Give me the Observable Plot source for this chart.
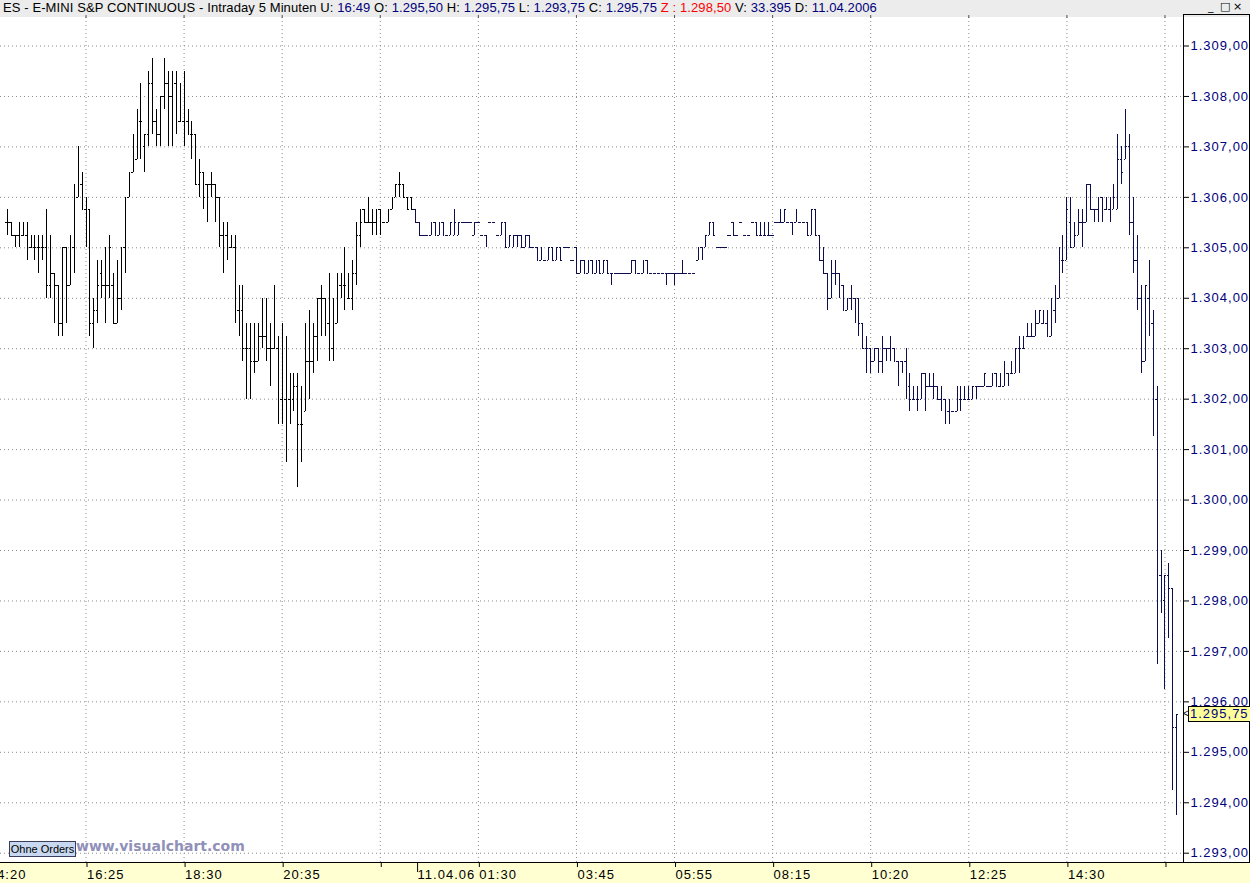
<!DOCTYPE html>
<html>
<head>
<meta charset="utf-8">
<script src="https://cdn.jsdelivr.net/npm/d3@7"></script>
<script src="https://cdn.jsdelivr.net/npm/@observablehq/plot@0.6"></script>
<style>
  html, body { margin: 0; padding: 0; background: #fff; }
  #wrap { position: relative; width: 1250px; height: 883px; overflow: hidden; font-family: "Liberation Sans", Arial, sans-serif; }
  #hdr { position: absolute; left: 3px; top: 1px; font-size: 13px; line-height: 14px; letter-spacing: 0.1px; white-space: pre; color: #000; }
  #hdr .v { color: #00007b; }
  #hdr .z { color: #ff0000; }
  .wb { position: absolute; top: 0px; font-family: "DejaVu Sans", sans-serif; font-size: 11px; line-height: 13px; color: #000; }
  #panel { position: absolute; left: 1183px; top: 14px; width: 65px; height: 848px; border: 1px solid #000; border-bottom: none; pointer-events: none; }
  #btn { position: absolute; left: 9px; top: 841px; width: 65px; height: 14px; background: #c8d8f0; border: 1px solid #3c3c5c; font-size: 11px; line-height: 14px; text-align: center; color: #000; }
  #vc { position: absolute; left: 76px; top: 838px; font-family: "DejaVu Sans", Verdana, sans-serif; font-weight: bold; font-size: 14px; color: #9090b8; }
  #mark { position: absolute; left: 1188px; width: 66px; height: 14px; background: #ffff99; border: 1px solid #000; font-size: 13px; line-height: 14px; letter-spacing: 1px; color: #00007b; padding-left: 1px; }
  #arrow { position: absolute; left: 1183px; font-size: 10px; line-height: 14px; color: #000; }
</style>
</head>
<body>
<div id="wrap"></div>
<script>
// ---------- data (5-minute bars, E-mini S&P, 10/11.04.2006) ----------
const high = [
1305.75,1305.5,1305.25,1305.5,1305.5,1305.5,1305.25,1305.25,1305.25,1305.25,
1305.75,1305.25,1304.5,1304.25,1305.0,1305.0,1305.25,1306.25,1307.0,1306.5,
1306.0,1305.75,1304.0,1304.75,1304.75,1305.0,1305.25,1304.5,1304.75,1305.0,
1306.0,1306.5,1307.25,1307.75,1308.25,1307.25,1308.5,1308.75,1307.75,1308.0,
1308.75,1308.5,1308.5,1308.5,1308.25,1308.5,1307.75,1307.5,1307.25,1306.75,
1306.5,1306.25,1306.5,1306.25,1306.0,1305.5,1305.5,1305.25,1305.25,1304.25,
1304.25,1303.5,1303.5,1303.5,1303.5,1304.0,1304.0,1303.5,1304.25,1303.25,
1303.5,1303.25,1302.5,1302.5,1302.5,1302.25,1303.5,1303.75,1303.5,1304.0,
1304.25,1304.0,1304.5,1304.0,1304.5,1304.5,1305.0,1304.5,1304.75,1305.5,
1305.75,1305.75,1306.0,1305.75,1305.75,1305.75,1305.5,1305.75,1306.0,1306.25,
1306.5,1306.25,1306.0,1306.0,1305.75,1305.5,1305.25,1305.25,1305.5,1305.5,
1305.5,1305.5,1305.25,1305.5,1305.75,1305.5,1305.5,1305.5,1305.5,1305.5,
1305.5,1305.25,1305.25,1305.5,1305.5,1305.25,1305.5,1305.5,1305.25,1305.25,
1305.25,1305.25,1305.25,1305.25,1305.0,1305.0,1305.0,1304.75,1305.0,1305.0,
1305.0,1305.0,1305.0,1305.0,1304.75,1305.0,1304.75,1304.75,1304.75,1304.75,
1304.75,1304.75,1304.75,1304.75,1304.5,1304.5,1304.5,1304.5,1304.5,1304.75,
1304.75,1304.5,1304.75,1304.75,1304.5,1304.5,1304.5,1304.5,1304.5,1304.5,
1304.5,1304.5,1304.75,1304.5,1304.5,1304.5,1305.0,1305.0,1305.25,1305.5,
1305.5,1305.0,1305.0,1305.0,1305.25,1305.5,1305.25,1305.5,1305.25,1305.25,
1305.5,1305.5,1305.5,1305.5,1305.5,1305.25,1305.5,1305.75,1305.75,1305.5,
1305.5,1305.75,1305.5,1305.5,1305.5,1305.75,1305.75,1305.25,1305.0,1304.5,
1304.75,1304.75,1304.5,1304.25,1304.0,1304.25,1304.0,1304.0,1303.5,1303.25,
1303.0,1303.0,1303.0,1303.25,1303.0,1303.25,1303.0,1302.75,1302.75,1303.0,
1302.5,1302.25,1302.25,1302.5,1302.5,1302.5,1302.5,1302.25,1302.25,1302.0,
1302.0,1301.75,1302.25,1302.25,1302.25,1302.25,1302.25,1302.25,1302.25,1302.5,
1302.25,1302.5,1302.5,1302.5,1302.75,1302.5,1302.75,1303.0,1303.25,1303.25,
1303.5,1303.5,1303.75,1303.75,1303.75,1303.75,1304.0,1304.25,1305.0,1305.25,
1306.0,1306.0,1305.5,1305.75,1305.75,1306.25,1306.25,1305.75,1306.0,1306.0,
1306.0,1306.0,1306.25,1307.25,1307.0,1307.75,1307.25,1306.0,1305.25,1304.25,
1304.25,1304.75,1303.75,1302.25,1299.0,1298.5,1298.75,1298.25,1295.75
];
const low = [
1305.25,1305.25,1305.0,1305.0,1305.25,1304.75,1305.0,1304.75,1304.5,1304.75,
1304.0,1304.0,1303.5,1303.25,1303.25,1303.5,1304.25,1304.5,1306.0,1305.75,
1305.0,1303.25,1303.0,1303.5,1304.0,1303.5,1304.0,1303.5,1303.5,1303.75,
1304.5,1306.0,1306.5,1306.75,1306.75,1306.5,1307.0,1307.25,1307.0,1307.0,
1307.75,1307.0,1307.0,1307.25,1307.5,1307.0,1307.25,1306.75,1306.25,1306.0,
1305.75,1305.5,1306.0,1305.5,1305.0,1304.5,1304.75,1305.0,1303.5,1303.25,
1302.75,1302.0,1302.0,1302.5,1302.75,1303.0,1302.75,1302.25,1303.0,1301.5,
1301.5,1300.75,1301.5,1301.75,1300.25,1300.75,1301.75,1302.0,1302.5,1302.75,
1303.25,1303.25,1302.75,1302.75,1303.5,1304.0,1303.75,1304.0,1303.75,1304.25,
1305.0,1305.5,1305.5,1305.25,1305.25,1305.25,1305.5,1305.5,1305.75,1306.0,
1306.0,1306.0,1305.75,1305.75,1305.5,1305.25,1305.25,1305.25,1305.25,1305.25,
1305.25,1305.25,1305.25,1305.25,1305.25,1305.25,1305.5,1305.5,1305.5,1305.25,
1305.5,1305.25,1305.0,1305.5,1305.5,1305.25,1305.25,1305.0,1305.0,1305.0,
1305.0,1305.0,1305.0,1305.0,1305.0,1304.75,1304.75,1304.75,1304.75,1304.75,
1304.75,1304.75,1305.0,1305.0,1304.75,1304.5,1304.5,1304.5,1304.5,1304.5,
1304.5,1304.5,1304.5,1304.5,1304.25,1304.5,1304.5,1304.5,1304.5,1304.5,
1304.5,1304.5,1304.5,1304.5,1304.5,1304.5,1304.5,1304.5,1304.25,1304.5,
1304.25,1304.5,1304.5,1304.5,1304.5,1304.5,1304.75,1304.75,1305.0,1305.25,
1305.25,1305.0,1305.0,1305.0,1305.25,1305.25,1305.25,1305.5,1305.25,1305.25,
1305.5,1305.25,1305.25,1305.25,1305.25,1305.25,1305.5,1305.5,1305.5,1305.5,
1305.25,1305.5,1305.5,1305.5,1305.25,1305.25,1305.25,1304.75,1304.5,1303.75,
1304.0,1304.25,1304.0,1303.75,1303.75,1303.75,1303.5,1303.25,1303.0,1302.5,
1302.5,1302.75,1302.5,1302.5,1302.75,1302.75,1302.75,1302.25,1302.5,1302.0,
1301.75,1302.0,1301.75,1302.0,1301.75,1302.25,1302.0,1302.0,1301.75,1301.5,
1301.5,1301.75,1301.75,1301.75,1302.0,1302.0,1302.0,1302.0,1302.25,1302.25,
1302.25,1302.25,1302.25,1302.25,1302.25,1302.25,1302.5,1302.5,1302.5,1303.0,
1303.25,1303.25,1303.25,1303.5,1303.5,1303.25,1303.25,1303.5,1304.0,1304.5,
1304.75,1305.0,1305.0,1305.25,1305.0,1305.5,1305.75,1305.5,1305.5,1305.5,
1305.75,1305.5,1305.75,1305.75,1306.25,1306.75,1305.25,1304.5,1303.75,1302.5,
1302.75,1303.25,1301.25,1296.75,1297.75,1296.25,1297.25,1294.25,1293.75
];
const open = [
1305.5,1305.5,1305.25,1305.25,1305.25,1305.25,1305.0,1305.0,1305.0,1305.0,
1305.0,1304.25,1304.5,1304.25,1303.5,1305.0,1304.25,1305.0,1306.0,1306.25,
1305.75,1305.75,1303.5,1303.75,1304.5,1304.25,1304.25,1304.25,1303.5,1304.0,
1305.0,1306.0,1306.5,1306.75,1307.5,1307.0,1307.25,1308.25,1307.5,1307.25,
1308.0,1308.25,1308.0,1308.25,1307.5,1307.5,1307.5,1307.25,1307.25,1306.25,
1306.5,1306.25,1306.25,1306.25,1306.0,1305.25,1305.25,1305.0,1305.0,1303.75,
1303.75,1303.0,1303.0,1302.75,1302.75,1303.25,1303.25,1303.0,1303.0,1303.0,
1302.0,1302.0,1302.0,1302.0,1302.25,1301.5,1301.75,1302.75,1302.75,1303.25,
1304.0,1304.0,1303.5,1303.0,1303.5,1304.25,1304.25,1304.0,1304.0,1304.5,
1305.25,1305.75,1305.5,1305.5,1305.5,1305.75,1305.5,1305.5,1305.75,1306.0,
1306.25,1306.25,1306.0,1306.0,1305.75,1305.5,1305.25,1305.25,1305.25,1305.5,
1305.25,1305.5,1305.25,1305.25,1305.25,1305.25,1305.5,1305.5,1305.5,1305.25,
1305.5,1305.25,1305.25,1305.5,1305.5,1305.25,1305.25,1305.5,1305.0,1305.0,
1305.25,1305.25,1305.0,1305.25,1305.0,1305.0,1304.75,1304.75,1304.75,1305.0,
1304.75,1305.0,1305.0,1305.0,1304.75,1305.0,1304.5,1304.75,1304.5,1304.75,
1304.5,1304.75,1304.5,1304.75,1304.5,1304.5,1304.5,1304.5,1304.5,1304.5,
1304.75,1304.5,1304.5,1304.75,1304.5,1304.5,1304.5,1304.5,1304.5,1304.5,
1304.5,1304.5,1304.5,1304.5,1304.5,1304.5,1304.75,1305.0,1305.0,1305.25,
1305.5,1305.0,1305.0,1305.0,1305.25,1305.5,1305.25,1305.5,1305.25,1305.25,
1305.5,1305.5,1305.25,1305.25,1305.25,1305.25,1305.5,1305.5,1305.5,1305.5,
1305.5,1305.5,1305.5,1305.5,1305.5,1305.25,1305.75,1305.25,1304.75,1304.5,
1304.0,1304.5,1304.5,1304.25,1303.75,1304.0,1304.0,1304.0,1303.5,1303.0,
1303.0,1302.75,1303.0,1302.75,1303.0,1303.0,1303.0,1302.75,1302.75,1302.75,
1302.25,1302.0,1302.0,1302.0,1302.5,1302.25,1302.25,1302.25,1302.0,1302.0,
1301.75,1301.75,1301.75,1302.0,1302.0,1302.0,1302.0,1302.25,1302.25,1302.25,
1302.25,1302.25,1302.5,1302.25,1302.25,1302.5,1302.5,1302.5,1303.0,1303.0,
1303.25,1303.25,1303.25,1303.5,1303.5,1303.5,1303.25,1303.75,1304.0,1304.75,
1304.75,1305.5,1305.0,1305.25,1305.5,1305.5,1306.25,1305.75,1305.75,1306.0,
1305.75,1305.75,1305.75,1305.75,1306.75,1306.75,1307.0,1305.5,1304.75,1304.0,
1302.75,1304.0,1303.5,1302.0,1298.5,1298.0,1298.5,1298.25,1295.5
];
const close = [
1305.5,1305.25,1305.25,1305.25,1305.25,1305.0,1305.0,1305.0,1305.0,1305.0,
1304.25,1304.5,1304.25,1303.5,1305.0,1304.25,1305.0,1306.0,1306.25,1305.75,
1305.75,1303.5,1303.75,1304.25,1304.25,1304.25,1305.0,1303.5,1304.0,1304.0,
1305.75,1306.25,1306.75,1307.5,1307.5,1307.25,1308.25,1307.5,1307.25,1308.0,
1308.25,1308.0,1308.25,1307.5,1307.5,1307.5,1307.25,1307.25,1306.25,1306.5,
1306.0,1306.25,1306.25,1306.0,1305.25,1305.25,1305.0,1305.0,1303.75,1303.75,
1303.0,1303.0,1302.75,1302.75,1303.25,1303.25,1303.0,1303.0,1303.0,1302.0,
1302.0,1302.0,1302.0,1302.25,1301.5,1301.5,1302.75,1302.75,1303.25,1304.0,
1304.0,1303.5,1303.0,1303.0,1303.75,1304.25,1304.25,1304.0,1304.5,1305.25,
1305.5,1305.5,1305.5,1305.5,1305.5,1305.5,1305.5,1305.75,1306.0,1306.25,
1306.25,1306.0,1305.75,1305.75,1305.5,1305.25,1305.25,1305.25,1305.5,1305.25,
1305.5,1305.25,1305.25,1305.5,1305.5,1305.5,1305.5,1305.5,1305.5,1305.5,
1305.5,1305.25,1305.25,1305.5,1305.5,1305.25,1305.5,1305.0,1305.25,1305.25,
1305.25,1305.0,1305.25,1305.0,1305.0,1304.75,1305.0,1304.75,1305.0,1304.75,
1305.0,1304.75,1305.0,1305.0,1304.75,1304.5,1304.75,1304.5,1304.75,1304.5,
1304.75,1304.5,1304.75,1304.5,1304.5,1304.5,1304.5,1304.5,1304.5,1304.75,
1304.5,1304.5,1304.75,1304.5,1304.5,1304.5,1304.5,1304.5,1304.5,1304.5,
1304.5,1304.5,1304.5,1304.5,1304.5,1304.5,1305.0,1305.0,1305.25,1305.5,
1305.25,1305.0,1305.0,1305.0,1305.25,1305.25,1305.25,1305.5,1305.25,1305.25,
1305.5,1305.25,1305.25,1305.25,1305.25,1305.25,1305.5,1305.5,1305.75,1305.5,
1305.5,1305.75,1305.5,1305.5,1305.25,1305.75,1305.25,1304.75,1304.5,1304.0,
1304.5,1304.5,1304.25,1303.75,1304.0,1304.0,1304.0,1303.5,1303.0,1303.0,
1302.75,1303.0,1302.75,1303.0,1303.0,1303.0,1302.75,1302.75,1302.75,1302.25,
1302.0,1302.0,1302.0,1302.5,1302.25,1302.25,1302.25,1302.0,1302.0,1301.75,
1301.75,1301.75,1302.25,1302.0,1302.0,1302.0,1302.25,1302.25,1302.25,1302.5,
1302.25,1302.5,1302.25,1302.25,1302.5,1302.5,1302.5,1303.0,1303.0,1303.0,
1303.25,1303.25,1303.5,1303.75,1303.5,1303.25,1303.75,1304.0,1304.75,1304.75,
1305.75,1305.0,1305.25,1305.5,1305.5,1306.25,1305.75,1305.75,1305.75,1305.75,
1305.75,1305.75,1306.0,1306.75,1306.5,1307.0,1305.5,1304.75,1304.0,1302.75,
1304.25,1303.5,1302.0,1298.5,1298.25,1298.5,1298.25,1295.5,1295.75
];

// axis ticks / labels
const priceTicks = [1293,1294,1295,1296,1297,1298,1299,1300,1301,1302,1303,1304,1305,1306,1307,1308,1309];
const timeTickBars = [-5, 20, 45, 70, 95, 120, 145, 170, 195, 220, 245, 270, 295];
const timeTickLabels = ["14:20","16:25","18:30","20:35","","01:30","03:45","05:55","08:15","10:20","12:25","14:30",""];
const dayStartBar = 104;
const dayLabel = "11.04.06";

// header info
const title = "ES - E-MINI S&P CONTINUOUS - Intraday 5 Minuten";
const updated = "16:49";
const zValue = 1298.5;
const volume = "33.395";
const dateText = "11.04.2006";

// ---------- build ----------
const de = d3.formatLocale({decimal: ",", thousands: ".", grouping: [3], currency: ["", ""]});
const fmt = de.format(",.2f");

const bars = high.map((h, i) => ({i, h, l: low[i], o: open[i], c: close[i]}));
const last = bars[bars.length - 1];
const gridBars = timeTickBars.filter(d => d >= 0);
const labelOf = new Map(timeTickBars.map((d, k) => [d, timeTickLabels[k]]));

const xDomain = [-1.792, 299.72];
const yDomain = [1292.816, 1309.565];
const tickLen = 0.42;
const col = d => d.i < dayStartBar ? "#000000" : "#0e0e4e";
const gridStyle = {stroke: "#8c8c8c", strokeDasharray: "1,3", strokeWidth: 1};

const chart = Plot.plot({
  width: 1250, height: 883,
  marginTop: 17, marginBottom: 21, marginLeft: 0, marginRight: 67,
  x: {type: "linear", domain: xDomain, axis: null, label: null},
  y: {type: "linear", domain: yDomain, axis: null, label: null},
  marks: [
    Plot.ruleY(priceTicks, gridStyle),
    Plot.ruleX(gridBars, gridStyle),
    Plot.ruleX(bars, {x: "i", y1: "l", y2: "h", stroke: col, strokeWidth: 1, shapeRendering: "crispEdges"}),
    Plot.ruleY(bars, {y: "o", x1: d => d.i - tickLen, x2: "i", stroke: col, strokeWidth: 1, shapeRendering: "crispEdges"}),
    Plot.ruleY(bars, {y: "c", x1: "i", x2: d => d.i + tickLen, stroke: col, strokeWidth: 1, shapeRendering: "crispEdges"}),
    Plot.axisY(priceTicks, {anchor: "right", label: null, tickSize: 5, tickPadding: 2, tickFormat: fmt, fontSize: 13, fill: "#00007b", stroke: "#000"}),
    Plot.axisX(timeTickBars, {anchor: "bottom", label: null, tickSize: 5, tickPadding: 2, textAnchor: "start", dx: 1, tickFormat: d => labelOf.get(d), fontSize: 13, fill: "#000", stroke: "#000"}),
    Plot.axisX([dayStartBar], {anchor: "bottom", label: null, tickSize: 10, tickPadding: -3, textAnchor: "start", dx: 2, tickFormat: () => dayLabel, fontSize: 13, fill: "#000", stroke: "#000"}),
    Plot.axisX(gridBars, {anchor: "top", label: null, tickSize: 3, tickFormat: () => "", stroke: "#555"})
  ]
});
chart.setAttribute("font-family", "Liberation Sans, Arial, sans-serif");
chart.style.letterSpacing = "1px";
chart.style.background = "linear-gradient(to bottom, #ececec 0px, #ececec 17px, #ffffff 17px, #ffffff 862px, #000000 862px, #000000 863px, #ffffd2 863px, #ffffd2 883px)";
chart.style.position = "absolute";
chart.style.left = "0px";
chart.style.top = "0px";

const wrap = document.getElementById("wrap");
wrap.appendChild(chart);

// header line
const hdr = document.createElement("div");
hdr.id = "hdr";
const v = s => `<span class="v">${s}</span>`;
hdr.innerHTML = `${title.replace("&", "&amp;")} U: ${v(updated)} O: ${v(fmt(last.o))} H: ${v(fmt(last.h))} L: ${v(fmt(last.l))} C: ${v(fmt(last.c))} <span class="z">Z : ${fmt(zValue)}</span> V: ${v(volume)} D: ${v(dateText)}`;
wrap.appendChild(hdr);

// window buttons
const winGlyphs = ["_", "\u25A1", "\u00D7"];
const winLeft = [1208, 1220, 1233];
winGlyphs.forEach((g, k) => {
  const s = document.createElement("div");
  s.className = "wb";
  s.style.left = winLeft[k] + "px";
  s.textContent = g;
  wrap.appendChild(s);
});

const panel = document.createElement("div");
panel.id = "panel";
wrap.appendChild(panel);

const btn = document.createElement("div");
btn.id = "btn";
btn.textContent = "Ohne Orders";
wrap.appendChild(btn);

const vc = document.createElement("div");
vc.id = "vc";
vc.textContent = "www.visualchart.com";
wrap.appendChild(vc);

// last price marker, positioned via the y scale
const yPos = chart.scale("y").apply(last.c);
const mark = document.createElement("div");
mark.id = "mark";
mark.style.top = (yPos - 8) + "px";
mark.textContent = fmt(last.c);
wrap.appendChild(mark);
const arrow = document.createElement("div");
arrow.id = "arrow";
arrow.style.top = (yPos - 7) + "px";
arrow.textContent = "<";
wrap.appendChild(arrow);
</script>
</body>
</html>
